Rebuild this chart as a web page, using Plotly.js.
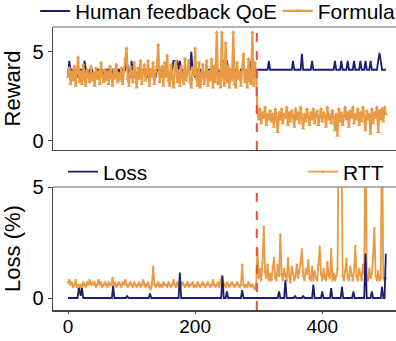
<!DOCTYPE html>
<html><head><meta charset="utf-8">
<script src="https://cdn.plot.ly/plotly-3.0.1.min.js"></script>
<style>html,body{margin:0;padding:0;background:#fff}#chart{width:396px;height:341px}</style>
</head><body><div id="chart"></div>
<script>
// sample spacing along the time axis
const stepSize = 2;

// Top panel: Human feedback QoE (sampled every 2 steps, 0..500)
const qoeHuman = [
3.6,4.5,4.0,4.0,3.6,3.6,4.0,4.0,3.6,3.6,
4.0,4.0,4.0,4.5,4.0,3.6,3.6,4.0,4.0,4.0,
3.6,3.6,4.0,4.0,4.0,3.6,4.0,4.0,3.6,3.6,
4.0,4.0,4.0,3.6,3.6,4.0,4.0,4.0,3.6,4.0,
4.0,3.6,3.6,4.0,4.0,4.0,5.0,4.0,3.6,3.6,
4.5,4.0,4.0,3.6,3.6,4.0,4.0,4.0,3.6,4.0,
4.0,4.0,3.6,3.6,4.0,4.0,4.0,4.0,3.6,3.6,
4.0,4.0,4.0,4.0,3.6,3.6,4.0,4.0,4.0,3.6,
3.6,4.0,4.0,4.5,4.5,4.5,4.5,4.0,4.5,4.0,
4.0,3.6,3.6,4.0,4.0,4.0,4.0,5.0,4.0,4.0,
3.6,3.6,4.0,4.0,4.0,3.6,3.6,3.6,3.6,3.6,
4.0,4.0,4.0,3.6,4.0,4.0,4.0,4.0,4.0,3.6,
4.0,4.0,4.5,4.5,4.5,4.5,4.0,4.0,4.0,3.6,
3.6,4.0,4.0,4.0,3.6,3.6,4.0,4.0,4.0,4.0,
3.6,3.6,4.0,4.0,4.5,4.0,4.0,3.6,4.0,
4,4,4,4,4,4,4,4,4,4.5,
4,4,4,4,4,4,4,4,4,4,
4,4,4,4,4,4,4,4,4.5,4,
4,4,4,4,4,4.9,4,4,4,4,
4,4,4,4.5,4,4,4,4,4,4,
4,4,4,4,4,4,4,4,4,4,
4,4.5,4,4,4,4,4.5,4,4,4,
4,4.5,4,4,4,4,4.5,4,4,4,
4,4.5,4,4,4,4.5,4,4,4,4.5,
4,4,4,4,4,4.5,4.95,4.5,4,4,
4,4
];

// Top panel: Formula reward
const rewardFormula = [
3.6,4.1,3.2,3.9,3.4,4.2,3.1,3.8,4.7,3.3,
3.9,3.2,4.3,3.5,3.1,4.0,3.6,3.3,4.2,3.4,
3.8,3.1,4.1,3.5,3.9,3.2,4.4,3.6,3.3,4.0,
3.4,3.9,3.2,4.2,3.7,3.1,4.0,3.5,4.3,3.3,
3.8,3.4,4.1,3.2,3.9,4.6,5.2,3.5,3.1,4.2,
3.7,3.3,4.4,3.6,3.0,4.1,3.5,4.5,3.2,3.9,
4.3,3.4,3.8,4.5,3.1,4.0,3.6,4.4,3.2,3.9,
4.2,5.4,3.3,3.8,4.2,3.1,4.4,3.6,4.8,3.4,
3.1,4.3,3.5,3.0,4.0,4.5,3.3,3.9,3.1,4.2,
3.6,3.2,4.6,3.4,3.9,4.5,3.3,3.0,4.1,3.7,
5.2,3.5,3.1,4.4,3.0,3.8,4.3,3.2,3.6,4.5,
3.1,3.9,3.4,4.6,3.0,4.2,3.3,6.1,3.2,3.8,
3.0,6.1,3.6,3.1,5.5,3.3,4.2,3.0,4.0,3.4,
6.1,3.2,3.0,4.4,3.5,3.9,3.1,4.1,4.9,3.3,
4.0,3.0,4.6,3.4,3.2,6.1,3.1,4.4,3.8,
1.7,1.2,1.8,1.0,1.6,1.3,1.9,0.9,1.5,1.2,
1.7,1.1,1.5,0.8,1.8,1.3,0.5,1.6,1.2,1.8,
1.0,1.5,1.3,1.9,0.9,1.6,1.1,1.7,1.4,0.8,
1.8,1.2,1.6,1.0,1.9,1.3,0.7,1.5,1.1,1.8,
1.4,0.9,1.6,1.2,1.8,1.0,1.5,1.7,0.9,1.3,
1.8,1.1,1.6,1.4,0.8,1.9,1.2,1.5,1.0,1.7,
1.3,0.6,1.5,0.3,1.8,1.1,1.6,0.9,1.4,1.9,
1.2,1.6,0.8,1.7,1.3,1.9,1.0,1.5,1.2,1.8,
0.9,1.6,1.1,1.9,1.4,0.6,1.7,1.2,1.5,0.4,
1.8,1.0,1.6,1.3,1.9,0.5,1.7,1.2,1.8,1.1,
1.9,1.5
];

// Bottom panel: RTT
const rttSeries = [
0.7,0.8,0.6,0.7,0.5,0.6,0.8,0.5,0.6,0.4,
0.6,0.5,0.7,0.6,0.5,0.7,0.6,0.8,0.6,0.7,
0.6,0.7,0.5,0.6,0.8,0.6,0.7,0.5,0.6,0.7,
0.6,0.5,0.7,0.6,0.6,0.9,0.6,0.7,0.5,0.6,
0.7,0.6,0.5,0.7,0.6,0.8,0.6,0.5,0.6,0.7,
0.6,0.5,0.7,0.6,0.5,0.6,0.7,0.5,0.6,0.8,
0.6,0.5,0.6,0.7,0.5,0.4,0.6,1.4,0.6,0.5,
0.6,0.7,0.5,0.6,0.5,0.7,0.6,0.6,0.5,0.7,
0.6,0.5,0.6,0.8,0.6,0.5,0.7,0.6,0.5,0.6,
0.7,0.6,0.5,0.6,0.7,0.5,0.6,0.6,0.7,0.5,
0.6,0.5,0.7,0.6,0.5,0.6,0.7,0.6,0.5,0.6,
0.7,0.6,0.5,0.6,0.8,0.6,0.5,0.6,0.7,0.5,
0.8,1.0,0.7,0.6,0.5,0.7,0.6,0.5,0.6,0.7,
0.6,0.5,0.6,0.7,0.6,0.5,0.6,1.5,0.6,0.5,
0.6,0.5,0.7,0.6,0.5,0.6,0.5,0.4,0.6,
2.2,0.9,1.3,0.8,1.6,3.2,1.2,0.9,1.5,0.8,
1.1,0.8,1.4,1.8,0.9,0.8,1.5,1.0,2.85,1.1,
0.8,1.3,1.0,0.8,1.8,1.0,0.7,1.4,1.1,0.8,
1.0,1.5,0.9,1.2,1.6,2.2,1.0,0.8,1.3,1.1,
1.7,0.9,0.8,1.4,0.8,1.2,0.9,0.8,1.5,2.3,
1.1,0.8,1.3,0.9,0.8,1.6,1.0,0.9,2.2,0.8,
1.1,0.8,1.0,1.3,8,8,8,1.0,0.8,1.2,
1.75,0.9,0.8,1.4,1.0,0.8,1.2,2.35,1.0,0.8,
1.3,1.1,0.8,1.5,1.1,8,0.9,0.8,1.3,0.9,
1.1,1.9,3.15,1.0,0.8,1.2,0.8,0.9,8,0.9,
0.8,0.9
];

// Bottom panel: Loss (%) — sparse spikes over a zero baseline
const lossX = [0, 15,17,19,20,22,24, 69,71,73, 91,93,95, 127,129,131, 174,176,178, 241,243,245, 248,250,252, 272,274,276, 330,332,334, 340,342,344, 355,357,359, 368,370,372, 384,386,388, 398,400,402, 412,414,416, 429,431,433, 447,449,451, 466,468,470, 476,478,480, 492,494,496, 498,500];
const lossY = [0, 0,0.45,0.1,0.1,0.45,0, 0,0.55,0, 0,0.1,0, 0,0.2,0, 0,1.15,0, 0,1.0,0, 0,0.3,0, 0,0.35,0, 0,0.3,0, 0,0.8,0, 0,0.1,0, 0,0.1,0, 0,0.6,0, 0,0.3,0, 0,0.45,0, 0,0.5,0, 0,0.3,0, 0,2.0,0, 0,0.3,0, 0,0.5,0, 0,2.0];

const changePoint = 297;
const xTickVals = [0, 200, 400];
const yTickVals = [0, 5];
const seriesNames = ['Human feedback QoE', 'Formula', 'Loss', 'RTT'];

const timeSteps = qoeHuman.map((_, i) => i * stepSize);

const NAVY = '#1b1f72';
const ORANGE = '#e99a44';
const FONT = 'Liberation Sans, Arial, sans-serif';

const traces = [
  {x: timeSteps, y: qoeHuman, name: seriesNames[0], type: 'scatter', mode: 'lines',
   line: {color: NAVY, width: 1.8}, xaxis: 'x', yaxis: 'y', legend: 'legend'},
  {x: timeSteps, y: rewardFormula, name: seriesNames[1], type: 'scatter', mode: 'lines+markers',
   line: {color: ORANGE, width: 2.2}, marker: {symbol: 'triangle-up', size: 4, color: ORANGE},
   xaxis: 'x', yaxis: 'y', legend: 'legend2'},
  {x: timeSteps, y: rttSeries, name: seriesNames[3], type: 'scatter', mode: 'lines+markers',
   line: {color: ORANGE, width: 1.8}, marker: {symbol: 'star', size: 3, color: ORANGE},
   xaxis: 'x2', yaxis: 'y2', legend: 'legend4'},
  {x: lossX, y: lossY, name: seriesNames[2], type: 'scatter', mode: 'lines',
   line: {color: NAVY, width: 1.8}, xaxis: 'x2', yaxis: 'y2', legend: 'legend3'}
];

const xRange = [-23.6, 516];
const axisLine = {showline: true, linecolor: '#444', linewidth: 1.5, showgrid: false, zeroline: false};

const layout = {
  width: 396, height: 341,
  margin: {l: 53, r: 0, t: 27, b: 31, autoexpand: false},
  paper_bgcolor: '#fff', plot_bgcolor: '#fff',
  font: {family: FONT, color: '#000'},
  xaxis: Object.assign({domain: [0, 1], range: xRange, anchor: 'y', showticklabels: false, ticks: ''}, axisLine),
  yaxis: Object.assign({domain: [0.5654, 1], range: [-0.506, 6.4], anchor: 'x', tickvals: yTickVals,
    ticks: 'outside', ticklen: 4, tickcolor: '#444', tickfont: {size: 20, family: FONT},
    title: {text: 'Reward', font: {size: 22, family: FONT}, standoff: 6}}, axisLine),
  xaxis2: Object.assign({domain: [0, 1], range: xRange, anchor: 'y2', tickvals: xTickVals,
    ticks: 'outside', ticklen: 2, tickcolor: '#444', ticklabelstandoff: -3,
    tickfont: {size: 19, family: FONT}}, axisLine),
  yaxis2: Object.assign({domain: [0, 0.4346], range: [-0.54, 5], anchor: 'x2', tickvals: yTickVals,
    ticks: 'outside', ticklen: 4, tickcolor: '#444', tickfont: {size: 20, family: FONT},
    title: {text: 'Loss (%)', font: {size: 22, family: FONT}, standoff: 6}}, axisLine),
  shapes: [
    {type: 'line', xref: 'paper', x0: 0, x1: 1, yref: 'y domain', y0: 1, y1: 1, line: {color: '#999', width: 1.5}},
    {type: 'line', xref: 'paper', x0: 0, x1: 1, yref: 'y2 domain', y0: 1, y1: 1, line: {color: '#999', width: 1.5}},
    {type: 'line', xref: 'x', x0: changePoint, x1: changePoint, yref: 'y domain', y0: 0, y1: 1, line: {color: '#e2513a', width: 2, dash: 'dash'}},
    {type: 'line', xref: 'x2', x0: changePoint, x1: changePoint, yref: 'y2 domain', y0: 0, y1: 1, line: {color: '#e2513a', width: 2, dash: 'dash'}}
  ],
  legend: {x: -0.052, y: 1.056, xanchor: 'left', yanchor: 'middle', orientation: 'h', bgcolor: 'rgba(0,0,0,0)', font: {size: 20.5, family: FONT}},
  legend2: {x: 0.655, y: 1.056, xanchor: 'left', yanchor: 'middle', orientation: 'h', bgcolor: 'rgba(0,0,0,0)', font: {size: 21, family: FONT}},
  legend3: {x: 0.029, y: 0.4876, xanchor: 'left', yanchor: 'middle', orientation: 'h', bgcolor: 'rgba(0,0,0,0)', font: {size: 21, family: FONT}},
  legend4: {x: 0.729, y: 0.4876, xanchor: 'left', yanchor: 'middle', orientation: 'h', bgcolor: 'rgba(0,0,0,0)', font: {size: 21, family: FONT}},
  showlegend: true
};

Plotly.newPlot('chart', traces, layout, {displayModeBar: false, staticPlot: true});
</script>
</body></html>
